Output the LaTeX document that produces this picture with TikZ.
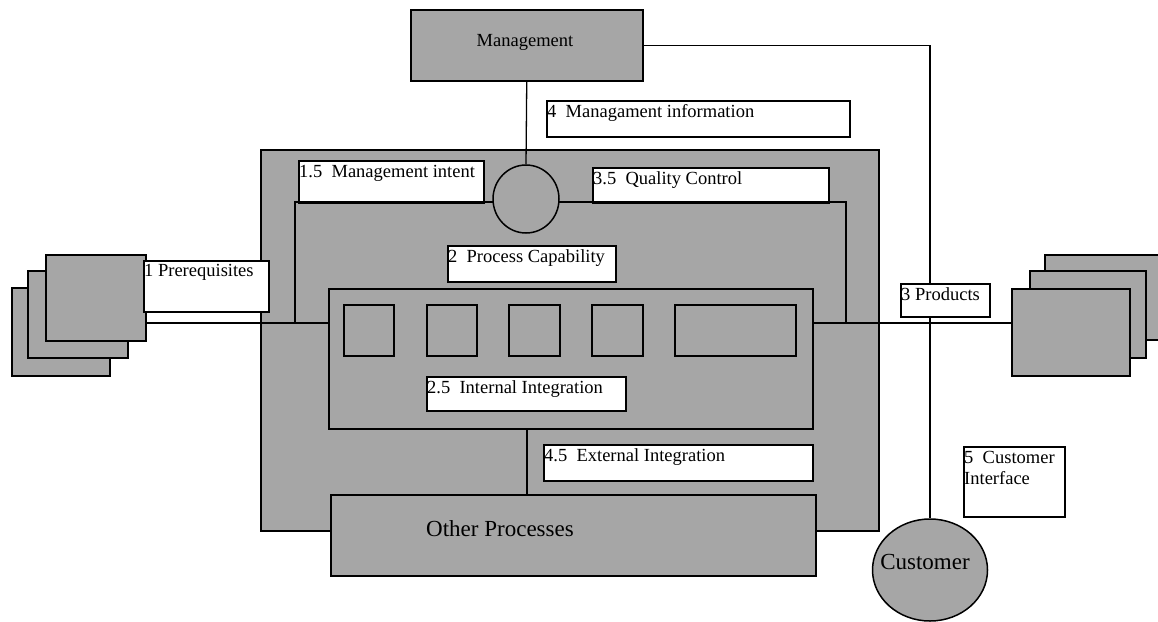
\documentclass[tikz,border=0pt]{standalone}
\usepackage{fontspec}
\setmainfont{Liberation Serif}
\usetikzlibrary{shapes.geometric}
\begin{document}
\begin{tikzpicture}[x=1pt,y=-1pt,
  shape line/.style={line width=1.5pt},
  greybox/.style={draw, fill=procgrey, shape line, rectangle, inner sep=0pt, anchor=north west},
  whitebox/.style={draw, fill=white, shape line, rectangle, inner sep=0pt, anchor=north west},
  boxtext/.style={anchor=base west, inner sep=0pt, font=\fontsize{18.5}{21}\selectfont},
  bigtext/.style={anchor=base, inner sep=0pt, font=\fontsize{23}{27}\selectfont},
  link/.style={line width=1.3pt},
]
\definecolor{procgrey}{HTML}{A6A6A6}
\path[use as bounding box] (0,0) rectangle (1158,621);

% stacked input documents
\node[greybox, minimum width=98, minimum height=88] (pa) at (11,287) {};
\node[greybox, minimum width=100, minimum height=87] (pb) at (27,270) {};
\node[greybox, minimum width=100, minimum height=86] (pc) at (45,254) {};

% stacked output documents
\node[greybox, minimum width=130, minimum height=85] (qa) at (1044,254) {};
\node[greybox, minimum width=116, minimum height=87] (qb) at (1029,270) {};
\node[greybox, minimum width=118, minimum height=87] (qc) at (1011,288) {};

% management
\node[greybox, minimum width=232, minimum height=71] (mgmt) at (410,9) {};
\node[anchor=base, inner sep=0pt, font=\fontsize{18.5}{21}\selectfont] (mgmttxt) at (525,46) {Management};

% customer
\node[draw, fill=procgrey, shape line, ellipse, minimum width=115, minimum height=102, inner sep=0pt] (cust) at (930,570) {};
\node[bigtext] (custtxt) at (925,569) {Customer};

% management to customer line
\draw[link] (mgmt.east) -| (cust.north);

% the process
\node[greybox, minimum width=618, minimum height=381] (proc) at (260,149) {};

\node[whitebox, minimum width=185, minimum height=42] (intent) at (298,160) {};
\node[boxtext] (intenttxt) at (299,177) {1.5\ \ Management intent};
\node[whitebox, minimum width=236, minimum height=35] (qual) at (592,167) {};
\node[boxtext] (qualtxt) at (593,184) {3.5\ \ Quality Control};

\coordinate (capsw) at (295,323);
\coordinate (capse) at (846,323);
\draw[shape line] (capsw) -- (295,202) -- (846,202) -- (capse);

\node[draw, fill=procgrey, shape line, ellipse, minimum width=66, minimum height=68, inner sep=0pt] (ctrl) at (526,199) {};
\draw[link] (mgmt.south) -- (ctrl.north);

\node[whitebox, minimum width=168, minimum height=36] (cap) at (447,245) {};
\node[boxtext] (captxt) at (448,262) {2\ \ Process Capability};

% internal integration
\node[greybox, minimum width=484, minimum height=140] (integ) at (328,288) {};
\node[greybox, minimum width=50, minimum height=51] (s1) at (343,304) {};
\node[greybox, minimum width=50, minimum height=51] (s2) at (426,304) {};
\node[greybox, minimum width=51, minimum height=51] (s3) at (508,304) {};
\node[greybox, minimum width=51, minimum height=51] (s4) at (591,304) {};
\node[greybox, minimum width=121, minimum height=51] (s5) at (674,304) {};
\node[whitebox, minimum width=199, minimum height=34] (intint) at (426,376) {};
\node[boxtext] (intinttxt) at (427,393) {2.5\ \ Internal Integration};

% inputs and outputs
\draw[link] (pc.east |- capsw) -- (integ.west |- capsw);
\draw[link] (integ.east |- capse) -- (qc.west |- capse);

% other processes
\node[greybox, minimum width=485, minimum height=81] (other) at (330,494) {};
\node[bigtext] (othertxt) at (500,536) {Other Processes};
\coordinate (extlink) at (527,428);
\draw[link] (extlink) -- (extlink |- other.north);

\node[whitebox, minimum width=269, minimum height=36] (ext) at (543,444) {};
\node[boxtext] (exttxt) at (544,461) {4.5\ \ External Integration};

% labels outside the process
\node[whitebox, minimum width=303, minimum height=36] (info) at (546,100) {};
\node[boxtext] (infotxt) at (547,117) {4\ \ Managament information};

\node[whitebox, minimum width=125, minimum height=51] (pre) at (143,260) {};
\node[boxtext] (pretxt) at (144,276) {1 Prerequisites};

\node[whitebox, minimum width=89, minimum height=33] (prod) at (900,283) {};
\node[boxtext] (prodtxt) at (901,300) {3 Products};

\node[whitebox, minimum width=101, minimum height=70] (ci) at (963,446) {};
\node[boxtext] (citxt) at (964,463) {5\ \ Customer};
\node[boxtext] (citxtb) at (964,484) {Interface};

\end{tikzpicture}
\end{document}
